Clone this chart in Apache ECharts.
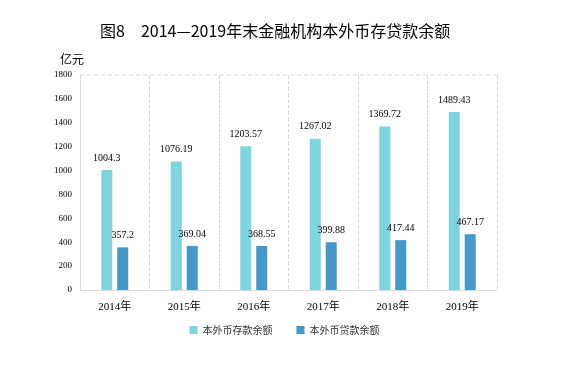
<!DOCTYPE html>
<html><head><meta charset="utf-8">
<script src="https://cdn.jsdelivr.net/npm/echarts@6/dist/echarts.min.js"></script>
<style>html,body{margin:0;padding:0;background:#fff}#c{width:569px;height:368px}</style>
</head><body><div id="c"></div>
<script>
const categories = ['2014年','2015年','2016年','2017年','2018年','2019年'];
const deposits = [1004.3, 1076.19, 1203.57, 1267.02, 1369.72, 1489.43];
const loans = [357.2, 369.04, 368.55, 399.88, 417.44, 467.17];
const seriesNames = ['本外币存款余额','本外币贷款余额'];
const titleText = '图8　2014—2019年末金融机构本外币存贷款余额';
const unitName = '亿元';

const chart = echarts.init(document.getElementById('c'));
const serif = '"Liberation Serif","DejaVu Serif","Noto Sans CJK SC",serif';
const lbl = {show:true, position:'top', distance:7, fontFamily:serif, fontSize:10, color:'#000'};
chart.setOption({
  animation:false,
  title:{text:titleText, left:95, top:18, textStyle:{fontFamily:'"Noto Sans CJK SC",sans-serif', fontSize:16, fontWeight:'normal', color:'#000'}},
  legend:{bottom:28, left:'center', itemWidth:8, itemHeight:8, itemGap:24, icon:'rect',
    textStyle:{fontFamily:'"Noto Sans CJK SC",sans-serif', fontSize:10, color:'#333'}},
  grid:{left:80, right:72, top:75, bottom:78},
  xAxis:{type:'category', data:categories,
    axisLine:{lineStyle:{color:'#d9d9d9'}}, axisTick:{show:false},
    axisLabel:{fontFamily:serif, fontSize:11, color:'#000', margin:12},
    splitLine:{show:true, interval:0, lineStyle:{type:'dashed', color:'#d9d9d9'}}},
  yAxis:{type:'value', min:0, max:1800, interval:200, name:unitName,
    nameLocation:'end', nameGap:10, nameTextStyle:{fontFamily:'"Noto Sans CJK SC",sans-serif', fontSize:12, color:'#000', align:'right', padding:[0,-4,0,0]},
    axisLine:{show:true, lineStyle:{color:'#d9d9d9'}}, axisTick:{show:false},
    axisLabel:{fontFamily:serif, fontSize:9, color:'#000', margin:8, formatter:v=>String(v)},
    splitLine:{show:false}},
  series:[
    {name:seriesNames[0], type:'bar', data:deposits, barWidth:11, barGap:'45%', itemStyle:{color:'#80d4dd'}, label:lbl},
    {name:seriesNames[1], type:'bar', data:loans, barWidth:11, barGap:'45%', itemStyle:{color:'#4699c6'}, label:lbl}
  ],
  graphic:[{type:'line', shape:{x1:80,y1:75,x2:497,y2:75}, style:{stroke:'#d9d9d9', lineDash:[4,3], lineWidth:1}}]
});
</script></body></html>
